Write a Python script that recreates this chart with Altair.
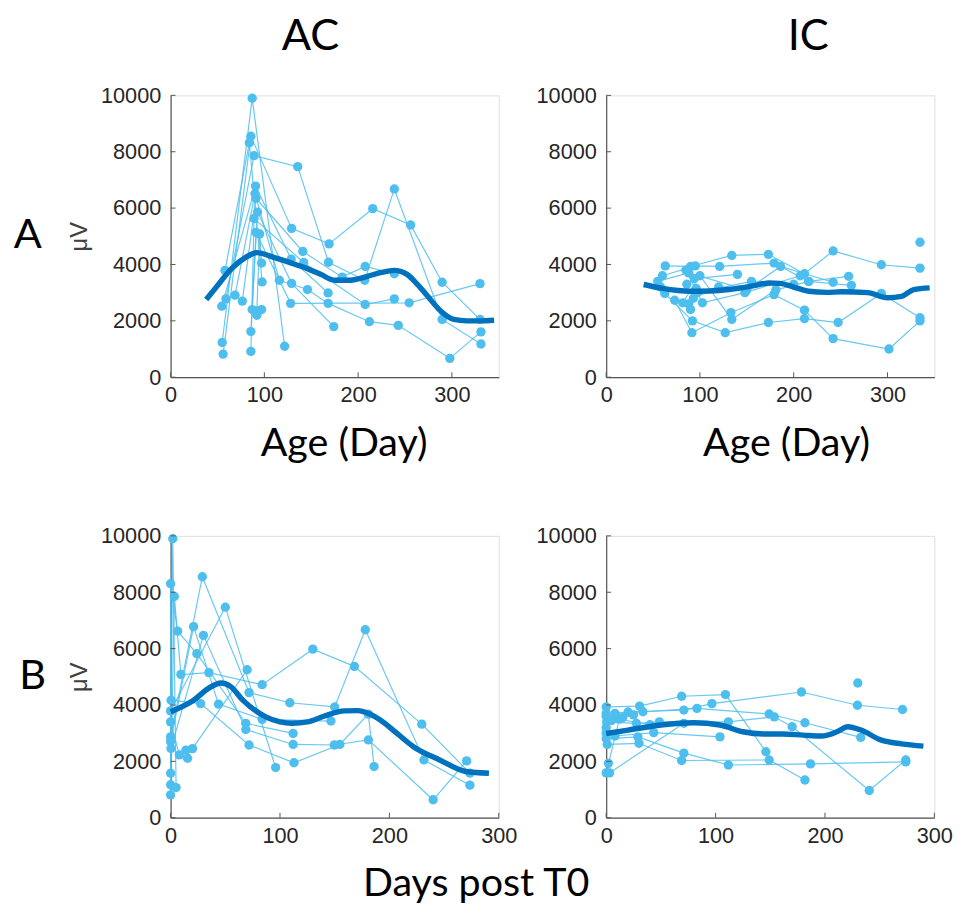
import altair as alt
import pandas as pd

LIGHT = "#4DBEEE"
DARK = "#0072BD"

X_TICKS = [0, 100, 200, 300]
Y_TICKS = [0, 2000, 4000, 6000, 8000, 10000]

# ---- Panel A / AC : value vs age (individual subjects) ----
A_AC = [
    ([55, 87, 121.6], [1230, 9900, 1100]),
    ([56, 85.6, 129, 169, 215.6, 256, 289.6, 330], [820, 8550, 5280, 4730, 5980, 5400, 3370, 2050]),
    ([58, 84, 97.6], [3790, 8320, 3380]),
    ([59, 89, 135.6, 168.4, 207, 238.6, 289.6, 331], [2780, 7860, 7470, 4080, 3440, 6680, 2050, 1180]),
    ([54.6, 90.6, 128.6, 168], [2520, 6780, 4190, 2990]),
    ([68.7, 90, 116, 146, 168, 212, 242.8, 297.8, 331], [2910, 6510, 3440, 3110, 2620, 1970, 1840, 670, 1610]),
    ([76.5, 91, 141, 183, 207.5, 238.6], [2700, 6350, 4460, 3550, 3930, 3670]),
    ([85.6, 92.7, 129, 174], [1620, 5860, 3330, 1795]),
    ([85.6, 89, 142, 207.5, 238.6], [915, 5630, 4070, 2580, 2780]),
    ([87, 91, 128, 254.4, 330], [2400, 5140, 2620, 2640, 3320]),
    ([92, 95, 97], [2350, 5080, 4050]),
    ([92, 97], [2200, 2400]),
]
A_AC_FIT_X = [38, 50, 65, 80, 92, 110, 129, 142, 160, 175, 189, 210, 225, 238.6, 252.6, 263, 274, 288, 302, 316, 330, 345]
A_AC_FIT_Y = [2760, 3250, 3850, 4250, 4420, 4250, 4050, 3900, 3650, 3440, 3440, 3580, 3720, 3790, 3640, 3300, 2880, 2350, 2050, 2000, 2000, 2020]

# ---- Panel A / IC ----
A_IC = [
    ([63, 90, 134, 173, 211.5, 242, 293.5, 334.7], [3950, 3930, 4320, 4360, 3670, 4480, 3990, 3870]),
    ([60, 95, 121, 179, 216, 258.6], [3600, 3950, 3930, 4050, 3400, 3580]),
    ([62.5, 92, 127, 173, 211.5, 247.4, 293.5, 334.7], [2970, 2000, 1580, 1940, 2080, 1940, 2970, 2110]),
    ([73, 91.4, 133, 179, 211.5, 242, 301.6, 334.7], [2730, 1580, 2290, 2930, 2380, 1370, 1000, 2000]),
    ([81.7, 100, 134, 181, 216, 261.5], [2640, 3600, 2050, 3100, 3400, 3260]),
    ([55, 88, 150, 186, 242], [3400, 3700, 3100, 3930, 3370]),
    ([58, 97, 155, 200], [3200, 3000, 3400, 3300]),
    ([85, 102.6, 148, 207], [3800, 2640, 3000, 3600]),
    ([90, 93, 120], [2400, 2800, 3200]),
    ([86, 94, 140], [3300, 3500, 3650]),
    ([88, 96], [2600, 3150]),
    ([334.7], [4790]),
]
A_IC_FIT_X = [40, 60, 90, 110, 133, 155, 174, 185, 200, 216, 235, 251, 279, 300, 315, 328, 345]
A_IC_FIT_Y = [3290, 3150, 3050, 3060, 3120, 3230, 3340, 3330, 3200, 3050, 3010, 3030, 3000, 2820, 2870, 3110, 3170]

# ---- Panel B / AC : value vs days post T0 ----
B_AC = [
    ([0, 2, 5], [1170, 9900, 1070]),
    ([0, 3.4, 9.4, 35, 83.7, 130, 168, 229.6, 273.6], [810, 7850, 5080, 5150, 4720, 5980, 5370, 3320, 1580]),
    ([0, 0, 6.4, 24, 68.7, 112], [1580, 8300, 6620, 5820, 3350, 2990]),
    ([0, 29, 71.7, 109, 150, 178, 231.6, 273.6], [2870, 8550, 4440, 4080, 3930, 6670, 2050, 1155]),
    ([0, 21, 43.8, 83.7, 146.6], [2700, 6780, 4030, 3490, 3430]),
    ([0.4, 30, 68.7, 112, 149.6, 180.8, 240, 270.6], [2460, 6470, 3130, 2600, 2580, 2760, 636, 2015]),
    ([0, 50, 96], [3790, 7470, 1780]),
    ([0.4, 27.4, 71.7, 112.8, 154.7, 180.8, 186], [4170, 4050, 2580, 1950, 2600, 3675, 1815]),
    ([0, 8, 15.5], [3400, 2230, 2110]),
    ([14, 20, 70], [2400, 2450, 5250]),
]
B_AC_FIT_X = [0, 21, 35, 46, 55, 66, 87, 100, 111, 125, 140, 159, 171, 181, 192, 207, 222, 246, 270, 291]
B_AC_FIT_Y = [3760, 4170, 4600, 4780, 4650, 4170, 3580, 3400, 3350, 3400, 3600, 3790, 3800, 3700, 3460, 2990, 2520, 2050, 1640, 1580]

# ---- Panel B / IC ----
B_IC = [
    ([0, 30.6, 69, 109, 146], [3930, 3960, 4310, 4370, 2340]),
    ([0, 20, 71, 96.7, 178.6, 229.7, 270.9], [3700, 3750, 3820, 4050, 4460, 3990, 3840]),
    ([0, 8, 33.6, 83, 149, 181.7, 232.7], [3600, 3700, 3760, 3880, 3680, 3370, 2850]),
    ([0.5, 27.6, 48.6, 111.7, 153.7, 170, 240.5, 273.9], [3400, 3350, 3400, 3400, 3580, 3230, 965, 2050]),
    ([0, 8, 43.5, 104], [3000, 2900, 3020, 2870]),
    ([0, 29, 71, 111.7, 186.8, 273.9], [2800, 2870, 2290, 1870, 1910, 1980]),
    ([1, 30, 69, 149, 181.7], [2600, 2640, 2030, 2050, 1340]),
    ([2, 3, 71], [1930, 1590, 3350]),
    ([0, 12, 40], [1590, 3500, 3300]),
    ([0, 5, 15, 25], [3200, 3450, 3550, 3650]),
    ([230], [4780]),
]
B_IC_FIT_X = [0, 20, 50, 80, 104, 125, 146, 161, 180, 197, 211, 221, 233, 251, 270, 290]
B_IC_FIT_Y = [2990, 3110, 3290, 3370, 3290, 3050, 2970, 2970, 2930, 2900, 3050, 3230, 3110, 2760, 2620, 2540]

W, H = 333, 286
TICK_FONT = "Liberation Sans"
TITLE_FONT = "Lato"


def subj_df(subjects):
    rows = []
    for sid, (xs, ys) in enumerate(subjects):
        for i, (x, y) in enumerate(zip(xs, ys)):
            rows.append({"sid": sid, "i": i, "x": x, "v": y})
    return pd.DataFrame(rows)


def panel(subjects, fit_x, fit_y, xmax, ytitle, labels):
    xs = alt.Scale(domain=[0, xmax], nice=False, zero=False)
    ys = alt.Scale(domain=[0, 10000], nice=False)
    common = dict(labelFont=TICK_FONT, labelFontSize=22, labelColor="#262626", format="d",
                  labelFlush=False, labelOverlap=False, ticks=False, tickSize=0,
                  grid=False, domainColor="#555555", domainWidth=1.2)
    xaxis = alt.Axis(values=X_TICKS, title=None, labelPadding=8, **common)
    if ytitle:
        yaxis = alt.Axis(values=Y_TICKS, title=ytitle, titleFont=TICK_FONT, titleFontSize=24,
                         titleFontWeight="normal", titleColor="#404040", titlePadding=9,
                         labelPadding=10, **common)
    else:
        yaxis = alt.Axis(values=Y_TICKS, title=None, labelPadding=10, **common)

    df = subj_df(subjects)
    X = alt.X("x:Q", scale=xs, axis=xaxis)
    Y = alt.Y("v:Q", scale=ys, axis=yaxis)

    lines = alt.Chart(df).mark_line(color=LIGHT, strokeWidth=1.2, opacity=0.85).encode(
        x=X, y=Y, detail="sid:N", order="i:Q")
    pts = alt.Chart(df).mark_circle(color=LIGHT, size=90, opacity=1).encode(x=X, y=Y)
    fit = alt.Chart(pd.DataFrame({"x": fit_x, "v": fit_y})).mark_line(
        color=DARK, strokeWidth=5.5, interpolate="monotone").encode(x=X, y=Y)
    xt = alt.Chart(pd.DataFrame({"x": X_TICKS})).mark_rule(color="#555555", strokeWidth=1).encode(
        x=X, y=alt.value(H), y2=alt.value(H - 5))
    yt = alt.Chart(pd.DataFrame({"v": Y_TICKS})).mark_rule(color="#555555", strokeWidth=1).encode(
        y=Y, x=alt.value(0), x2=alt.value(5))
    layers = [lines, pts, fit, xt, yt]
    for text, px, py, size in labels:
        layers.append(
            alt.Chart(pd.DataFrame({"label": [text]})).mark_text(
                font=TITLE_FONT, fontSize=size, color="black", align="center", baseline="middle"
            ).encode(text="label:N", x=alt.value(px), y=alt.value(py))
        )
    return alt.layer(*layers).properties(width=W, height=H)


p1 = panel(A_AC, A_AC_FIT_X, A_AC_FIT_Y, 350, "μV",
           [("AC", 142, -59, 44), ("A", -145, 142, 42), ("Age (Day)", 176, 354, 40)])
p2 = panel(A_IC, A_IC_FIT_X, A_IC_FIT_Y, 350, None,
           [("IC", 205, -59, 44), ("Age (Day)", 183, 354, 40)])
p3 = panel(B_AC, B_AC_FIT_X, B_AC_FIT_Y, 300, "μV",
           [("B", -140, 142, 42), ("Days post T0", 310, 353, 40)])
p4 = panel(B_IC, B_IC_FIT_X, B_IC_FIT_Y, 300, None, [])

chart = alt.concat(p1, p2, p3, p4, columns=2, bounds="flush",
                   spacing={"row": 161, "column": 109}).properties(
    padding={"left": 5, "top": 0, "right": 5, "bottom": 0}
).configure_view(stroke=None).configure(background="white")

chart.save("out.html", embed_options={"renderer": "svg", "actions": False})
